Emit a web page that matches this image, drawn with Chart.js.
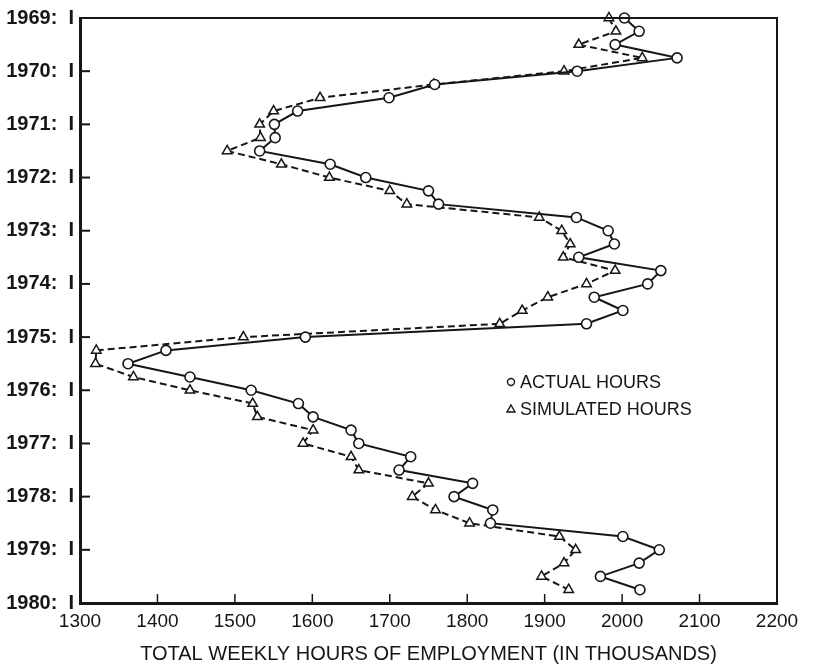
<!DOCTYPE html>
<html>
<head>
<meta charset="utf-8">
<script src="https://cdn.jsdelivr.net/npm/chart.js@4/dist/chart.umd.min.js"></script>
<style>
  html, body { margin: 0; padding: 0; background: #ffffff; }
  #wrap { width: 814px; height: 666px; }
</style>
</head>
<body>
<div id="wrap"><canvas id="c" width="814" height="666"></canvas></div>
<script>
// Quarters on the vertical (time) axis, top to bottom
const quarters = [
  '1969: I','1969: II','1969: III','1969: IV',
  '1970: I','1970: II','1970: III','1970: IV',
  '1971: I','1971: II','1971: III','1971: IV',
  '1972: I','1972: II','1972: III','1972: IV',
  '1973: I','1973: II','1973: III','1973: IV',
  '1974: I','1974: II','1974: III','1974: IV',
  '1975: I','1975: II','1975: III','1975: IV',
  '1976: I','1976: II','1976: III','1976: IV',
  '1977: I','1977: II','1977: III','1977: IV',
  '1978: I','1978: II','1978: III','1978: IV',
  '1979: I','1979: II','1979: III','1979: IV',
  '1980: I'
];

// Total weekly hours of employment (thousands)
const actualHours = [
  2003, 2022, 1991, 2071,
  1942, 1758, 1699, 1581,
  1551, 1552, 1532, 1623,
  1669, 1750, 1763, 1941,
  1982, 1990, 1944, 2050,
  2033, 1964, 2001, 1954,
  1591, 1411, 1362, 1442,
  1521, 1582, 1601, 1650,
  1660, 1727, 1712, 1807,
  1783, 1833, 1830, 2001,
  2048, 2022, 1972, 2023,
  null
];

const simulatedHours = [
  1983, 1992, 1944, 2026,
  1925, 1757, 1610, 1550,
  1532, 1533, 1490, 1560,
  1622, 1700, 1722, 1893,
  1922, 1933, 1924, 1991,
  1954, 1904, 1871, 1842,
  1511, 1321, 1320, 1369,
  1442, 1523, 1529, 1601,
  1588, 1650, 1660, 1750,
  1729, 1759, 1803, 1919,
  1940, 1925, 1896, 1931,
  null
];

const xTickValues = [1300, 1400, 1500, 1600, 1700, 1800, 1900, 2000, 2100, 2200];
const xTitle = 'TOTAL WEEKLY HOURS OF EMPLOYMENT (IN THOUSANDS)';
const legendLabels = ['ACTUAL HOURS', 'SIMULATED HOURS'];

const INK = '#161616';
const FONT = "'Liberation Sans', Arial, sans-serif";

const framePlugin = {
  id: 'frame',
  beforeDraw(chart) {
    const ctx = chart.ctx;
    ctx.save();
    ctx.fillStyle = '#ffffff';
    ctx.fillRect(0, 0, chart.width, chart.height);
    ctx.restore();
  },
  afterDatasetsDraw(chart) {
    const {ctx, chartArea: a, scales: {x, y}} = chart;
    ctx.save();
    ctx.strokeStyle = INK;
    // top and right frame
    ctx.lineWidth = 2;
    ctx.beginPath();
    ctx.moveTo(a.left, a.top);
    ctx.lineTo(a.right, a.top);
    ctx.lineTo(a.right, a.bottom);
    ctx.stroke();
    // inward ticks on x axis
    ctx.lineWidth = 1.5;
    xTickValues.slice(1, -1).forEach(v => {
      const px = x.getPixelForValue(v);
      ctx.beginPath();
      ctx.moveTo(px, a.bottom);
      ctx.lineTo(px, a.bottom - 9);
      ctx.stroke();
    });
    // inward ticks on y axis (each first quarter)
    ctx.lineWidth = 2;
    quarters.forEach((q, i) => {
      if (i % 4 !== 0 || i === 0 || i === quarters.length - 1) return;
      const py = y.getPixelForValue(i);
      ctx.beginPath();
      ctx.moveTo(a.left, py);
      ctx.lineTo(a.left + 10, py);
      ctx.stroke();
    });
    // legend inside plot
    ctx.font = '18px ' + FONT;
    ctx.fillStyle = INK;
    ctx.textBaseline = 'middle';
    ctx.textAlign = 'left';
    const lx = 511, ly1 = 382, ly2 = 409;
    ctx.lineWidth = 1.4;
    ctx.beginPath();
    ctx.arc(lx, ly1, 3.5, 0, Math.PI * 2);
    ctx.stroke();
    ctx.beginPath();
    ctx.moveTo(lx, ly2 - 4);
    ctx.lineTo(lx + 4, ly2 + 3);
    ctx.lineTo(lx - 4, ly2 + 3);
    ctx.closePath();
    ctx.stroke();
    ctx.fillText(legendLabels[0], lx + 9, ly1 + 1);
    ctx.fillText(legendLabels[1], lx + 9, ly2 + 1);
    ctx.restore();
  }
};

new Chart(document.getElementById('c'), {
  type: 'line',
  data: {
    labels: quarters,
    datasets: [
      {
        label: 'ACTUAL HOURS',
        data: actualHours,
        borderColor: INK,
        borderWidth: 2,
        pointStyle: 'circle',
        pointRadius: 5,
        pointBackgroundColor: '#ffffff',
        pointBorderColor: INK,
        pointBorderWidth: 1.6,
        tension: 0,
        clip: false
      },
      {
        label: 'SIMULATED HOURS',
        data: simulatedHours,
        borderColor: INK,
        borderWidth: 2,
        borderDash: [7, 4],
        pointStyle: 'triangle',
        pointRadius: 5.5,
        pointBackgroundColor: '#ffffff',
        pointBorderColor: INK,
        pointBorderWidth: 1.5,
        tension: 0,
        clip: false
      }
    ]
  },
  options: {
    indexAxis: 'y',
    responsive: false,
    animation: false,
    events: [],
    layout: { padding: { top: 15, right: 37, left: 0, bottom: 0 } },
    plugins: { legend: { display: false }, tooltip: { enabled: false } },
    scales: {
      x: {
        type: 'linear',
        position: 'bottom',
        min: 1300,
        max: 2200,
        afterFit(scale) { scale.height = 63; },
        afterBuildTicks(scale) { scale.ticks = xTickValues.map(v => ({ value: v })); },
        grid: { display: true, drawOnChartArea: false, drawTicks: false },
        border: { display: true, color: INK, width: 3 },
        ticks: {
          color: INK,
          font: { family: FONT, size: 19 },
          padding: 7,
          maxRotation: 0,
          autoSkip: false,
          callback(value) { return String(value); }
        },
        title: {
          display: true,
          text: xTitle,
          color: INK,
          font: { family: FONT, size: 20 },
          padding: { top: 0, bottom: 0 }
        }
      },
      y: {
        type: 'category',
        position: 'left',
        offset: false,
        afterFit(scale) { scale.width = 80; },
        grid: { display: true, drawOnChartArea: false, drawTicks: false },
        border: { display: true, color: INK, width: 3 },
        ticks: {
          autoSkip: false,
          color: INK,
          font: { family: FONT, size: 20, weight: 'bold' },
          padding: 6,
          callback(value, index) {
            if (index % 4 !== 0) return '';
            return this.getLabelForValue(value).replace(': ', ':  ');
          }
        }
      }
    }
  },
  plugins: [framePlugin]
});
</script>
</body>
</html>
